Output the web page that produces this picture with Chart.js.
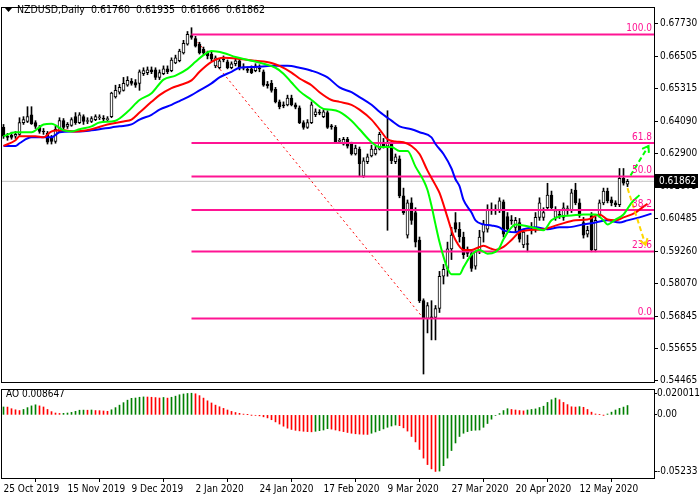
<!DOCTYPE html>
<html>
<head>
<meta charset="utf-8">
<script src="https://cdn.jsdelivr.net/npm/chart.js@4.4.1/dist/chart.umd.min.js"></script>
<style>
  body { margin: 0; background: #fff; width: 700px; height: 500px; overflow: hidden; position: relative; }
  canvas { position: absolute; left: 0; }
  #mainChart { top: 0; }
  #aoChart { top: 384px; }
</style>
</head>
<body>
<canvas id="mainChart" width="700" height="390"></canvas>
<canvas id="aoChart" width="700" height="116"></canvas>
<script>
// NZDUSD daily candles, one entry per bar
const opens = [0.6387,0.6354,0.6357,0.6354,0.6361,0.6405,0.6409,0.6434,0.6405,0.6387,0.6372,0.6365,0.6346,0.6335,0.6372,0.6412,0.6391,0.6394,0.6427,0.6405,0.6427,0.6409,0.6409,0.6416,0.6423,0.6420,0.6416,0.6427,0.6500,0.6518,0.6525,0.6544,0.6558,0.6554,0.6551,0.6587,0.6591,0.6601,0.6601,0.6573,0.6587,0.6605,0.6598,0.6627,0.6635,0.6664,0.6697,0.6729,0.6718,0.6697,0.6678,0.6664,0.6660,0.6616,0.6609,0.6642,0.6631,0.6609,0.6624,0.6635,0.6612,0.6601,0.6605,0.6598,0.6609,0.6594,0.6547,0.6551,0.6529,0.6482,0.6471,0.6471,0.6496,0.6471,0.6460,0.6405,0.6387,0.6405,0.6434,0.6442,0.6427,0.6442,0.6391,0.6387,0.6335,0.6325,0.6343,0.6325,0.6288,0.6306,0.6205,0.6259,0.6281,0.6288,0.6306,0.6332,0.6317,0.6325,0.6259,0.6270,0.6132,0.5986,0.6106,0.6070,0.5968,0.5742,0.5676,0.5680,0.5680,0.5713,0.5833,0.5862,0.5935,0.6033,0.6008,0.5979,0.5920,0.5917,0.5870,0.5924,0.5997,0.6008,0.6081,0.6079,0.6081,0.6110,0.6055,0.6041,0.6015,0.6033,0.5950,0.5953,0.6008,0.6008,0.6052,0.6052,0.6088,0.6135,0.6052,0.6063,0.6052,0.6081,0.6081,0.6154,0.6106,0.6033,0.5990,0.6059,0.5931,0.6059,0.6106,0.6150,0.6117,0.6106,0.6099,0.6197,0.6176];
const highs = [0.6398,0.6365,0.6369,0.6372,0.6423,0.6427,0.6464,0.6464,0.6412,0.6394,0.6383,0.6372,0.6357,0.6391,0.6423,0.6420,0.6405,0.6423,0.6442,0.6442,0.6434,0.6423,0.6427,0.6434,0.6434,0.6431,0.6427,0.6518,0.6544,0.6547,0.6573,0.6576,0.6569,0.6565,0.6601,0.6609,0.6612,0.6612,0.6609,0.6601,0.6616,0.6616,0.6646,0.6656,0.6678,0.6711,0.6744,0.6758,0.6726,0.6704,0.6686,0.6671,0.6667,0.6653,0.6642,0.6653,0.6638,0.6631,0.6642,0.6642,0.6624,0.6612,0.6616,0.6624,0.6620,0.6601,0.6558,0.6562,0.6536,0.6489,0.6482,0.6507,0.6507,0.6478,0.6467,0.6412,0.6416,0.6482,0.6456,0.6453,0.6453,0.6449,0.6398,0.6394,0.6346,0.6350,0.6350,0.6332,0.6321,0.6314,0.6274,0.6288,0.6321,0.6317,0.6369,0.6346,0.6449,0.6335,0.6288,0.6281,0.6161,0.6117,0.6125,0.6088,0.5979,0.5749,0.5735,0.5742,0.5724,0.5851,0.5877,0.5960,0.6015,0.6070,0.6033,0.5997,0.5942,0.5931,0.5924,0.6004,0.6041,0.6099,0.6106,0.6099,0.6125,0.6117,0.6070,0.6059,0.6052,0.6048,0.6008,0.5986,0.6033,0.6070,0.6125,0.6088,0.6179,0.6150,0.6092,0.6077,0.6106,0.6095,0.6157,0.6179,0.6121,0.6052,0.6019,0.6070,0.6055,0.6117,0.6161,0.6161,0.6128,0.6114,0.6234,0.6234,0.61935];
const lows = [0.6346,0.6339,0.6343,0.6346,0.6357,0.6398,0.6405,0.6398,0.6383,0.6365,0.6361,0.6325,0.6325,0.6328,0.6369,0.6380,0.6383,0.6391,0.6398,0.6401,0.6398,0.6401,0.6405,0.6412,0.6416,0.6412,0.6409,0.6423,0.6496,0.6511,0.6522,0.6540,0.6544,0.6536,0.6525,0.6580,0.6583,0.6587,0.6565,0.6565,0.6583,0.6587,0.6594,0.6624,0.6631,0.6660,0.6693,0.6715,0.6686,0.6660,0.6656,0.6642,0.6635,0.6609,0.6605,0.6631,0.6605,0.6605,0.6616,0.6601,0.6601,0.6591,0.6587,0.6594,0.6594,0.6540,0.6533,0.6518,0.6478,0.6456,0.6460,0.6467,0.6467,0.6456,0.6401,0.6380,0.6383,0.6401,0.6427,0.6434,0.6423,0.6383,0.6380,0.6328,0.6328,0.6321,0.6310,0.6284,0.6284,0.6205,0.6201,0.6252,0.6277,0.6284,0.6303,0.6310,0.6004,0.6252,0.6252,0.6125,0.6063,0.5975,0.6026,0.5942,0.5735,0.5469,0.5622,0.5596,0.5596,0.5698,0.5804,0.5833,0.5895,0.5997,0.5960,0.5899,0.5906,0.5851,0.5859,0.5917,0.5960,0.5997,0.6063,0.6063,0.6070,0.5979,0.6004,0.6026,0.5997,0.5960,0.5939,0.5924,0.5990,0.5997,0.6041,0.6041,0.6081,0.6077,0.6041,0.6048,0.6041,0.6063,0.6070,0.6099,0.6052,0.5975,0.5979,0.5924,0.5924,0.6052,0.6099,0.6106,0.6095,0.6092,0.6092,0.6172,0.61666];
const closes = [0.6354,0.6350,0.6350,0.6361,0.6405,0.6416,0.6427,0.6401,0.6391,0.6372,0.6370,0.6332,0.6335,0.6380,0.6412,0.6387,0.6398,0.6416,0.6405,0.6434,0.6409,0.6412,0.6420,0.6427,0.6425,0.6418,0.6418,0.6515,0.6525,0.6536,0.6551,0.6562,0.6551,0.6544,0.6594,0.6598,0.6601,0.6594,0.6573,0.6591,0.6605,0.6594,0.6638,0.6646,0.6671,0.6700,0.6733,0.6722,0.6689,0.6664,0.6664,0.6653,0.6642,0.6646,0.6635,0.6638,0.6609,0.6624,0.6635,0.6609,0.6607,0.6599,0.6591,0.6616,0.6605,0.6544,0.6542,0.6525,0.6482,0.6464,0.6467,0.6496,0.6471,0.6462,0.6405,0.6387,0.6405,0.6471,0.6445,0.6440,0.6445,0.6387,0.6389,0.6332,0.6337,0.6343,0.6317,0.6288,0.6310,0.6252,0.6263,0.6277,0.6306,0.6306,0.6361,0.6317,0.6332,0.6263,0.6277,0.6132,0.6070,0.6106,0.6041,0.5960,0.5742,0.5676,0.5724,0.5678,0.5713,0.5833,0.5859,0.5935,0.5986,0.6008,0.5979,0.5913,0.5918,0.5862,0.5924,0.5979,0.6026,0.6081,0.6079,0.6083,0.6114,0.5990,0.6008,0.6039,0.6041,0.5971,0.5997,0.5951,0.6006,0.6052,0.6106,0.6070,0.6135,0.6088,0.6077,0.6059,0.6088,0.6084,0.6143,0.6106,0.6059,0.5986,0.6004,0.5931,0.6041,0.6106,0.6150,0.6114,0.6106,0.6099,0.6197,0.6179,0.61862];

// Awesome Oscillator, one value per bar
const aoValues = [0.0073,0.0072,0.0057,0.0047,0.0040,0.0050,0.0067,0.0083,0.0093,0.0083,0.0073,0.0050,0.0030,0.0017,0.0013,0.0014,0.0017,0.0023,0.0033,0.0043,0.0044,0.0043,0.0045,0.0040,0.0039,0.0036,0.0033,0.0047,0.0067,0.0090,0.0113,0.0136,0.0153,0.0156,0.0163,0.0166,0.0165,0.0163,0.0160,0.0156,0.0161,0.0155,0.0163,0.0173,0.0186,0.0193,0.0198,0.020011,0.0195,0.0178,0.0155,0.0130,0.0110,0.0090,0.0075,0.0060,0.0045,0.0032,0.0022,0.0014,0.0007,0.0002,-0.0002,-0.0004,-0.0009,-0.0018,-0.0028,-0.0045,-0.0065,-0.0085,-0.0105,-0.0123,-0.0135,-0.0143,-0.0148,-0.0152,-0.0155,-0.0157,-0.0152,-0.0146,-0.0140,-0.0128,-0.0132,-0.0140,-0.0148,-0.0155,-0.0163,-0.0170,-0.0175,-0.0178,-0.0180,-0.0181,-0.0170,-0.0158,-0.0145,-0.0130,-0.0115,-0.0103,-0.0094,-0.0100,-0.0120,-0.0150,-0.0200,-0.0250,-0.0320,-0.0400,-0.0460,-0.0500,-0.05233,-0.0520,-0.0470,-0.0400,-0.0330,-0.0260,-0.0200,-0.0170,-0.0155,-0.0145,-0.0142,-0.0140,-0.0115,-0.0080,-0.0040,-0.0005,0.0012,0.0040,0.0057,0.0050,0.0045,0.0040,0.0037,0.0045,0.0050,0.0055,0.0068,0.0080,0.0115,0.0140,0.0155,0.0140,0.0115,0.0095,0.0075,0.0072,0.0076,0.0070,0.0050,0.0025,0.0008,0.0003,-0.0002,0.0008,0.0025,0.0045,0.0060,0.0072,0.008647];

// Alligator lines: [bar, price]
const lipsLine = [[0,0.6354],[3,0.6369],[7,0.6369],[10,0.6398],[12,0.6401],[15,0.6376],[17,0.6372],[19,0.6380],[22,0.6391],[24,0.6405],[28,0.6412],[31,0.6445],[34,0.6489],[37,0.6514],[40,0.6565],[43,0.6580],[46,0.6605],[48,0.6631],[50,0.6656],[52,0.6671],[55,0.6664],[58,0.6649],[62,0.6635],[65,0.6624],[68,0.6609],[70,0.6587],[72,0.6554],[74,0.6522],[77,0.6489],[80,0.6456],[82,0.6453],[84,0.6445],[87,0.6412],[89,0.6380],[92,0.6332],[94,0.6314],[97,0.6314],[99,0.6299],[101,0.6299],[103,0.6241],[105,0.6190],[106,0.6154],[107,0.6095],[108,0.6026],[109,0.5960],[110,0.5906],[111,0.5862],[112,0.5840],[114,0.5840],[115,0.5866],[117,0.5913],[119,0.5931],[121,0.5917],[123,0.5924],[124,0.5939],[125,0.5971],[127,0.6015],[128,0.6026],[131,0.6019],[133,0.6012],[135,0.6004],[137,0.6041],[139,0.6055],[142,0.6059],[145,0.6063],[148,0.6063],[150,0.6041],[151,0.6026],[153,0.6044],[155,0.6063],[156,0.6084],[157,0.6106],[159,0.6135]];
const teethLine = [[0,0.6318],[3,0.6339],[4,0.6354],[8,0.6354],[10,0.6350],[12,0.6372],[15,0.6376],[18,0.6372],[22,0.6380],[26,0.6398],[30,0.6409],[32,0.6416],[34,0.6442],[37,0.6482],[39,0.6507],[42,0.6533],[44,0.6544],[47,0.6562],[49,0.6594],[52,0.6631],[55,0.6646],[59,0.6642],[63,0.6635],[67,0.6627],[69,0.6616],[72,0.6591],[74,0.6569],[77,0.6544],[79,0.6518],[82,0.6489],[84,0.6482],[87,0.6471],[89,0.6453],[92,0.6416],[94,0.6380],[96,0.6343],[98,0.6335],[100,0.6332],[102,0.6318],[104,0.6288],[106,0.6226],[108,0.6172],[109,0.6143],[111,0.6052],[112,0.6004],[113,0.5968],[115,0.5931],[117,0.5931],[119,0.5942],[120,0.5946],[122,0.5935],[123,0.5931],[125,0.5942],[127,0.5968],[129,0.5997],[131,0.6004],[135,0.6008],[139,0.6026],[143,0.6041],[146,0.6044],[149,0.6063],[151,0.6044],[153,0.6041],[155,0.6052],[158,0.6070],[159,0.6081],[161,0.6103]];
const jawLine = [[0,0.6318],[3,0.6318],[4,0.6328],[7,0.6350],[12,0.6350],[14,0.6369],[17,0.6372],[19,0.6372],[22,0.6376],[24,0.6380],[27,0.6387],[29,0.6391],[32,0.6398],[34,0.6416],[37,0.6434],[39,0.6453],[42,0.6471],[44,0.6485],[47,0.6507],[49,0.6525],[52,0.6551],[54,0.6573],[57,0.6594],[59,0.6609],[63,0.6612],[67,0.6616],[71,0.6616],[74,0.6609],[77,0.6598],[81,0.6573],[84,0.6536],[87,0.6518],[89,0.6500],[92,0.6471],[94,0.6445],[97,0.6412],[99,0.6391],[102,0.6380],[104,0.6369],[107,0.6350],[108,0.6325],[110,0.6288],[112,0.6234],[113,0.6194],[114,0.6168],[115,0.6117],[117,0.6070],[118,0.6041],[120,0.6026],[122,0.6022],[124,0.6015],[125,0.6004],[128,0.5997],[130,0.6008],[133,0.6015],[136,0.6008],[139,0.6015],[141,0.6015],[145,0.6026],[148,0.6033],[151,0.6041],[154,0.6033],[156,0.6041],[159,0.6052],[162,0.6066]];

// Fibonacci retracement from the January high to the March low
const fibHighBar = 47;
const fibLowBar = 105;
const fibHigh = 0.6733;
const fibLow = 0.5676;
const fibRatios = [0.0, 23.6, 38.2, 50.0, 61.8, 100.0];

// forecast arrows: [bar, price] start and end
const upArrow = [[156.75, 0.6208], [161.25, 0.6318]];
const downArrow = [[156, 0.6161], [160.5, 0.5950]];

const priceTicks = [0.67730, 0.66505, 0.65315, 0.64090, 0.62900, 0.61675, 0.60485, 0.59260, 0.58070, 0.56845, 0.55655, 0.54465];
const aoTicks = [0.020011, 0, -0.05233];
const aoTickLabels = ['0.020011', '0.00', '-0.05233'];
const dateBars = [0, 16, 32, 48, 64, 80, 96, 112, 128, 144];
const dateLabels = ['25 Oct 2019', '15 Nov 2019', '9 Dec 2019', '2 Jan 2020', '24 Jan 2020', '17 Feb 2020', '9 Mar 2020', '27 Mar 2020', '20 Apr 2020', '12 May 2020'];

const symbol = 'NZDUSD,Daily';
const lastBar = opens.length - 1;
const lastClose = closes[lastBar];

const xMin = -0.375;
const xMax = 162.625;
const fontFamily = "'DejaVu Sans Condensed', 'DejaVu Sans', sans-serif";
const fibColor = '#ff1493';

Chart.defaults.font.family = fontFamily;
Chart.defaults.font.size = 10;
Chart.defaults.color = '#000';

const barIdx = opens.map((_, i) => i);
const toPoints = arr => arr.map(p => ({ x: p[0], y: p[1] }));

function frame(chart) {
    const { ctx, chartArea: a } = chart;
    ctx.save();
    ctx.strokeStyle = '#000';
    ctx.lineWidth = 1;
    ctx.strokeRect(a.left - 0.5, a.top - 0.5, a.right - a.left + 1, a.bottom - a.top + 1);
    ctx.restore();
}

const mainOverlay = {
    id: 'mainOverlay',
    afterDatasetsDraw(chart) {
        const { ctx, chartArea: a } = chart;
        const y = chart.scales.y;
        ctx.save();
        // fib labels
        ctx.font = '10px ' + fontFamily;
        ctx.fillStyle = fibColor;
        ctx.textAlign = 'right';
        ctx.textBaseline = 'bottom';
        fibRatios.forEach(r => {
            const lvl = fibLow + (fibHigh - fibLow) * r / 100;
            ctx.fillText(r.toFixed(1), a.right - 2, y.getPixelForValue(lvl) - 1);
        });
        // arrow heads
        chart.data.datasets.forEach((ds, i) => {
            if (!ds.arrow) return;
            const pts = chart.getDatasetMeta(i).data;
            const p0 = pts[0], p1 = pts[pts.length - 1];
            const ang = Math.atan2(p1.y - p0.y, p1.x - p0.x);
            ctx.strokeStyle = ds.borderColor;
            ctx.lineWidth = 2;
            ctx.setLineDash([]);
            ctx.beginPath();
            ctx.moveTo(p1.x - 7 * Math.cos(ang - 0.6), p1.y - 7 * Math.sin(ang - 0.6));
            ctx.lineTo(p1.x, p1.y);
            ctx.lineTo(p1.x - 7 * Math.cos(ang + 0.6), p1.y - 7 * Math.sin(ang + 0.6));
            ctx.stroke();
        });
        ctx.restore();
    },
    afterDraw(chart) {
        const { ctx, chartArea: a } = chart;
        frame(chart);
        ctx.save();
        // header
        ctx.fillStyle = '#000';
        ctx.beginPath();
        ctx.moveTo(5, 8); ctx.lineTo(12, 8); ctx.lineTo(8.5, 12); ctx.closePath();
        ctx.fill();
        ctx.font = '10.5px ' + fontFamily;
        ctx.textBaseline = 'middle';
        ctx.textAlign = 'left';
        const ohlc = [opens[lastBar], highs[lastBar], lows[lastBar], closes[lastBar]].map(v => v.toFixed(5)).join('  ');
        ctx.fillText(symbol + '  ' + ohlc, 17, 10);
        // current price box
        ctx.font = '10px ' + fontFamily;
        const py = chart.scales.y.getPixelForValue(lastClose);
        ctx.fillStyle = '#000';
        ctx.fillRect(a.right + 1, Math.round(py) - 7, 43, 14);
        ctx.fillStyle = '#fff';
        ctx.fillText(lastClose.toFixed(5), a.right + 5, Math.round(py));
        ctx.restore();
    }
};

const fibDatasets = fibRatios.map(r => {
    const lvl = fibLow + (fibHigh - fibLow) * r / 100;
    return {
        type: 'line',
        data: [{ x: fibHighBar, y: lvl }, { x: xMax, y: lvl }],
        borderColor: fibColor,
        borderWidth: 2,
        pointRadius: 0,
        order: 8
    };
});

const maLine = (pts, color, order) => ({
    type: 'line',
    data: toPoints(pts),
    borderColor: color,
    borderWidth: 2,
    pointRadius: 0,
    cubicInterpolationMode: 'monotone',
    order: order
});

new Chart(document.getElementById('mainChart'), {
    type: 'bar',
    data: {
        datasets: [
            {
                type: 'line',
                data: [{ x: xMin, y: lastClose }, { x: xMax, y: lastClose }],
                borderColor: '#c0c0c0',
                borderWidth: 1,
                pointRadius: 0,
                order: 20
            },
            {
                type: 'line',
                data: [{ x: fibHighBar, y: fibHigh }, { x: fibLowBar, y: fibLow }],
                borderColor: '#ff0000',
                borderWidth: 1,
                borderDash: [2, 3],
                pointRadius: 0,
                order: 15
            },
            {
                data: barIdx.map(i => ({ x: i, y: [lows[i], highs[i]] })),
                backgroundColor: '#000',
                barThickness: 1,
                grouped: false,
                order: 12
            },
            {
                data: barIdx.map(i => ({ x: i, y: [opens[i], closes[i]] })),
                backgroundColor: barIdx.map(i => closes[i] >= opens[i] ? '#fff' : '#000'),
                borderColor: '#000',
                borderWidth: 1,
                borderSkipped: false,
                barThickness: 3,
                minBarLength: 1,
                grouped: false,
                order: 11
            },
            ...fibDatasets,
            maLine(jawLine, '#0000ff', 5),
            maLine(teethLine, '#ff0000', 4),
            maLine(lipsLine, '#00ff00', 3),
            {
                type: 'line', arrow: true,
                data: toPoints(upArrow),
                borderColor: '#00ff00', borderWidth: 2, borderDash: [5, 3],
                pointRadius: 0, order: 1
            },
            {
                type: 'line', arrow: true,
                data: toPoints(downArrow),
                borderColor: '#ffd700', borderWidth: 2, borderDash: [5, 3],
                pointRadius: 0, order: 1
            }
        ]
    },
    options: {
        responsive: false,
        animation: false,
        devicePixelRatio: 1,
        layout: { padding: { left: 2, top: 1, right: 0, bottom: 7 } },
        plugins: { legend: { display: false }, tooltip: { enabled: false } },
        scales: {
            x: { type: 'linear', min: xMin, max: xMax, offset: false, display: false },
            y: {
                type: 'linear',
                position: 'right',
                min: 0.54393,
                max: 0.68314,
                afterBuildTicks: s => { s.ticks = priceTicks.map(v => ({ value: v })); },
                afterFit: s => { s.width = 46; },
                ticks: { callback: v => v.toFixed(5), autoSkip: false, padding: 2, color: '#000' },
                grid: { drawOnChartArea: false, tickLength: 4, tickColor: '#000' },
                border: { display: false }
            }
        }
    },
    plugins: [mainOverlay]
});

const aoOverlay = {
    id: 'aoOverlay',
    afterDraw(chart) {
        const { ctx } = chart;
        frame(chart);
        ctx.save();
        ctx.fillStyle = '#000';
        ctx.font = '10px ' + fontFamily;
        ctx.textBaseline = 'middle';
        ctx.fillText('AO ' + aoValues[lastBar].toFixed(6), 6, 10);
        ctx.restore();
    }
};

new Chart(document.getElementById('aoChart'), {
    type: 'bar',
    data: {
        datasets: [{
            data: barIdx.map(i => ({ x: i, y: aoValues[i] })),
            backgroundColor: barIdx.map(i => (i === 0 || aoValues[i] > aoValues[i - 1]) ? '#008000' : '#ff0000'),
            barThickness: 1,
            grouped: false
        }]
    },
    options: {
        responsive: false,
        animation: false,
        devicePixelRatio: 1,
        layout: { padding: { left: 2, top: 2, right: 0, bottom: 0 } },
        plugins: { legend: { display: false }, tooltip: { enabled: false } },
        scales: {
            x: {
                type: 'linear', min: xMin, max: xMax, offset: false,
                afterBuildTicks: s => { s.ticks = dateBars.map(v => ({ value: v })); },
                afterFit: s => { s.height = 22; },
                ticks: {
                    callback: v => dateLabels[dateBars.indexOf(v)],
                    align: 'start', maxRotation: 0, autoSkip: false, padding: 1, color: '#000'
                },
                grid: { drawOnChartArea: false, tickLength: 4, tickColor: '#000' },
                border: { display: false }
            },
            y: {
                type: 'linear',
                position: 'right',
                min: -0.0584,
                max: 0.0230,
                afterBuildTicks: s => { s.ticks = aoTicks.map(v => ({ value: v })); },
                afterFit: s => { s.width = 46; },
                ticks: { callback: (v, i) => aoTickLabels[i], autoSkip: false, padding: 0, color: '#000' },
                grid: { drawOnChartArea: false, tickLength: 3, tickColor: '#000' },
                border: { display: false }
            }
        }
    },
    plugins: [aoOverlay]
});
</script>
</body>
</html>
